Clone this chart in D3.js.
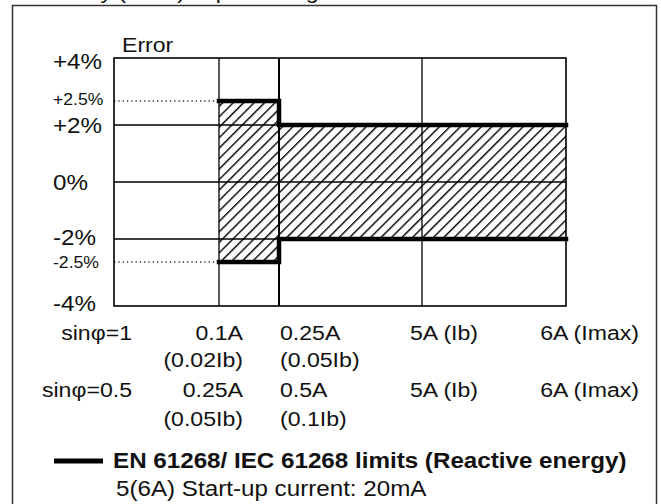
<!DOCTYPE html>
<html>
<head>
<meta charset="utf-8">
<script src="https://cdn.jsdelivr.net/npm/d3@7"></script>
<style>
  body { margin: 0; background: #fff; }
  svg { display: block; font-family: "Liberation Sans", Arial, sans-serif; }
</style>
</head>
<body>
<svg id="chart" width="661" height="504"></svg>
<script>
// error levels on the left (percent) and what is printed for them
const yTicks = [4, 2.5, 2, 0, -2, -2.5, -4];
const yTickLabels = ["+4%", "+2.5%", "+2%", "0%", "-2%", "-2.5%", "-4%"];
const gridLevels = [2, 0, -2];
const dottedLevels = [2.5, -2.5];

// current columns (index 0..4) and their labels for each power factor
const columns = [0, 1, 2, 3, 4];
const rowSin1 = ["sinφ=1", "0.1A", "0.25A", "5A (Ib)", "6A (Imax)"];
const rowSin1Sub = ["", "(0.02Ib)", "(0.05Ib)", "", ""];
const rowSin05 = ["sinφ=0.5", "0.25A", "0.5A", "5A (Ib)", "6A (Imax)"];
const rowSin05Sub = ["", "(0.05Ib)", "(0.1Ib)", "", ""];

// limit band: +/- percent starting at each column
const limitCol = [1, 2, 4];
const limitPct = [2.5, 2, 2];

const titleText = "Accuracy (Error) in percentage";
const axisTitle = "Error";
const legendText = "EN 61268/ IEC 61268 limits (Reactive energy)";
const noteText = "5(6A)  Start-up current: 20mA";

const svg = d3.select("#chart");
const stretch = 1.1; // the source lettering is a bit wider than it is tall

// schematic, not-to-scale axes
const x = d3.scaleLinear()
  .domain(columns)
  .range([114, 219, 279, 422, 566]);
const y = d3.scaleLinear()
  .domain([-4, -2.5, -2, 0, 2, 2.5, 4])
  .range([306, 262, 239, 182, 125, 101, 58]);

const txt = (g, px, py, s, opts = {}) => g.append("text")
  .attr("transform", `translate(${px},${py}) scale(${stretch},1)`)
  .attr("font-size", opts.size || 21)
  .attr("font-weight", opts.weight || "normal")
  .attr("text-anchor", opts.anchor || "start")
  .attr("dy", opts.dy || null)
  .attr("fill", "#111")
  .text(s);

// outer frame and cut-off caption above it
svg.append("rect")
  .attr("x", 12.5).attr("y", 5.5)
  .attr("width", 644).attr("height", 520)
  .attr("fill", "none").attr("stroke", "#333").attr("stroke-width", 1.5);
txt(svg, 17, -1.5, titleText, { size: 21 });

// hatch pattern
const defs = svg.append("defs");
defs.append("pattern")
  .attr("id", "hatch")
  .attr("patternUnits", "userSpaceOnUse")
  .attr("width", 7.4).attr("height", 7.4)
  .attr("patternTransform", "rotate(45)")
  .append("line")
    .attr("x1", 0).attr("y1", 0).attr("x2", 0).attr("y2", 7.4)
    .attr("stroke", "#000").attr("stroke-width", 2.8);

const band = limitCol.map((c, i) => ({ c, v: limitPct[i] }));

const area = d3.area()
  .x(d => x(d.c))
  .y0(d => y(-d.v))
  .y1(d => y(d.v))
  .curve(d3.curveStepAfter);

svg.append("path")
  .datum(band)
  .attr("d", area)
  .attr("fill", "url(#hatch)");

// grid
const grid = svg.append("g").attr("stroke", "#000").attr("fill", "none");
grid.selectAll("line.h")
  .data(gridLevels)
  .join("line")
    .attr("x1", x(0)).attr("x2", x(4))
    .attr("y1", d => y(d)).attr("y2", d => y(d))
    .attr("stroke-width", 1.4);
grid.selectAll("line.v")
  .data([1, 2, 3])
  .join("line")
    .attr("x1", d => x(d)).attr("x2", d => x(d))
    .attr("y1", y(4)).attr("y2", y(-4))
    .attr("stroke-width", d => d === 2 ? 2 : 1.3);
grid.selectAll("line.d")
  .data(dottedLevels)
  .join("line")
    .attr("x1", x(0)).attr("x2", x(1))
    .attr("y1", d => y(d)).attr("y2", d => y(d))
    .attr("stroke", "#333")
    .attr("stroke-width", 1.3)
    .attr("stroke-dasharray", "1.3,3");
grid.append("rect")
  .attr("x", x(0)).attr("y", y(4))
  .attr("width", x(4) - x(0)).attr("height", y(-4) - y(4))
  .attr("stroke-width", 1.6);

// limit lines
const upper = d3.line()
  .x(d => x(d.c))
  .y(d => y(d.v))
  .curve(d3.curveStepAfter);
const lower = d3.line()
  .x(d => x(d.c))
  .y(d => y(-d.v))
  .curve(d3.curveStepAfter);
[upper, lower].forEach(gen => svg.append("path")
  .datum(band)
  .attr("d", gen)
  .attr("fill", "none")
  .attr("stroke", "#000")
  .attr("stroke-width", 4.5)
  .attr("stroke-linejoin", "miter")
  .attr("stroke-linecap", "square"));

// y labels
const yl = svg.append("g");
yTicks.forEach((v, i) => {
  const small = Math.abs(v) === 2.5;
  const nudge = v === 4 ? 3 : v === -4 ? -3 : v === 2.5 ? -2 : v === -2 ? -2 : 0;
  txt(yl, 53, y(v) + nudge, yTickLabels[i], { size: small ? 16 : 22, dy: "0.36em" });
});
txt(svg, 122, 52, axisTitle, { size: 21 });

// x labels, four rows
const colPos = [
  { dx: 18, anchor: "end" },
  { dx: 24, anchor: "end" },
  { dx: 1, anchor: "start" },
  { dx: -12, anchor: "start" },
  { dx: 73, anchor: "end" }
];
const rows = [
  { labels: rowSin1, base: 340 },
  { labels: rowSin1Sub, base: 367 },
  { labels: rowSin05, base: 397 },
  { labels: rowSin05Sub, base: 426 }
];
const xl = svg.append("g");
rows.forEach(r => r.labels.forEach((s, i) => {
  if (!s) return;
  txt(xl, x(columns[i]) + colPos[i].dx, r.base, s, { size: 21, anchor: colPos[i].anchor });
}));

// legend
svg.append("line")
  .attr("x1", 54).attr("x2", 103)
  .attr("y1", 461).attr("y2", 461)
  .attr("stroke", "#000").attr("stroke-width", 5);
txt(svg, 113, 468, legendText, { size: 22, weight: "bold" });
txt(svg, 116, 496, noteText, { size: 22 });
</script>
</body>
</html>
